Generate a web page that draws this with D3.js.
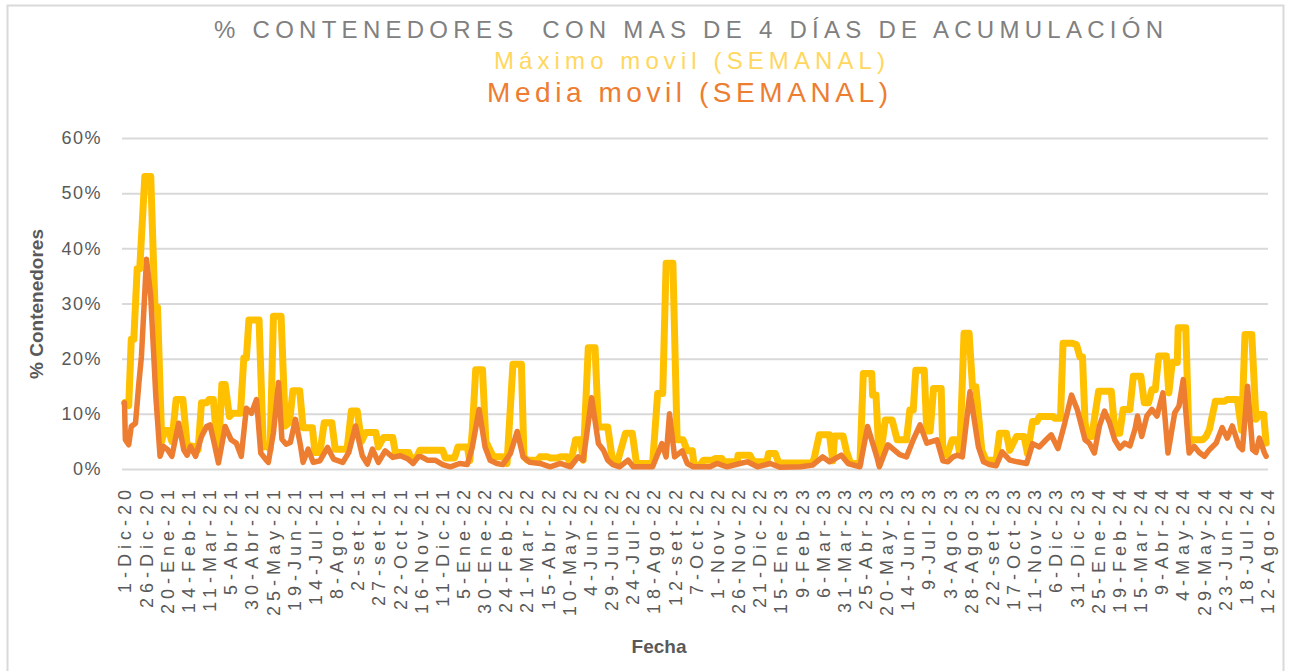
<!DOCTYPE html>
<html>
<head>
<meta charset="utf-8">
<script src="https://cdn.jsdelivr.net/npm/d3@7"></script>
<style>
  html, body { margin: 0; padding: 0; background: #ffffff; }
  svg { display: block; }
</style>
</head>
<body>
<svg id="chart" width="1296" height="671"></svg>
<script>
// ---------------- DATA ----------------
const startDate = "2020-12-01"; // day 0 of the series
const titleText = "% CONTENEDORES  CON MAS DE 4 DÍAS DE ACUMULACIÓN";
const subtitleMax = "Máximo movil (SEMANAL)";
const subtitleMean = "Media movil (SEMANAL)";
const yAxisTitle = "% Contenedores";
const xAxisTitle = "Fecha";

// tick labels: one every 25 days from 1-Dic-20
const tickLabels = ["1-Dic-20","26-Dic-20","20-Ene-21","14-Feb-21","11-Mar-21","5-Abr-21","30-Abr-21","25-May-21","19-Jun-21","14-Jul-21","8-Ago-21","2-set-21","27-set-21","22-Oct-21","16-Nov-21","11-Dic-21","5-Ene-22","30-Ene-22","24-Feb-22","21-Mar-22","15-Abr-22","10-May-22","4-Jun-22","29-Jun-22","24-Jul-22","18-Ago-22","12-set-22","7-Oct-22","1-Nov-22","26-Nov-22","21-Dic-22","15-Ene-23","9-Feb-23","6-Mar-23","31-Mar-23","25-Abr-23","20-May-23","14-Jun-23","9-Jul-23","3-Ago-23","28-Ago-23","22-set-23","17-Oct-23","11-Nov-23","6-Dic-23","31-Dic-23","25-Ene-24","19-Feb-24","15-Mar-24","9-Abr-24","4-May-24","29-May-24","23-Jun-24","18-Jul-24","12-Ago-24"];
const tickStepDays = 25;
const yTicks = [0, 10, 20, 30, 40, 50, 60];

// Máximo móvil (semanal): day offset from startDate, value in %
const maxDays = [0,5,8,11,15,18,24,31,36,39,44,47,52,56,61,69,74,82,87,91,97,100,105,109,111,115,119,124,128,137,141,144,147,159,164,169,172,176,185,190,195,199,207,211,222,225,231,236,245,249,263,268,275,280,285,297,300,306,317,320,336,338,345,349,376,379,390,394,405,408,411,415,423,427,432,436,447,452,459,469,472,476,488,491,500,503,511,515,523,527,533,539,542,548,556,560,565,571,576,582,592,600,605,624,630,636,640,648,653,660,665,671,673,680,684,695,698,706,708,724,725,739,743,759,761,769,773,813,815,821,833,837,839,849,853,858,869,873,883,884,888,892,899,907,913,924,928,932,935,945,948,952,956,965,967,972,978,984,987,992,998,1002,1006,1013,1018,1030,1034,1042,1046,1054,1063,1067,1073,1078,1081,1097,1099,1106,1109,1120,1125,1129,1132,1135,1138,1143,1146,1151,1166,1169,1172,1176,1180,1188,1192,1201,1205,1210,1214,1218,1222,1231,1234,1238,1244,1245,1254,1258,1262,1274,1278,1282,1289,1300,1303,1315,1320,1324,1332,1337,1341,1346,1349];
const maxValues = [12,11.5,23.5,23.5,36.3,36.3,53,53,29.3,29.3,5,7,7,5,12.6,12.6,4.3,4.1,3.5,12,12,12.6,12.6,5,2.5,15.3,15.3,9.5,10.1,10.1,20.1,20.1,27,27,4,4.2,3.5,27.7,27.7,7.8,8.5,14.2,14.2,7.5,7.5,3,3,8.4,8.4,3.6,3.6,10.5,10.5,5,6.6,6.6,4,5.7,5.7,3,3,2,2,3.4,3.4,2,2,4,4,1.5,7,18,18,5,3.4,2.2,2.2,1,19,19,2.2,1.6,1.6,2.2,2.2,2,2,2.2,2.2,1,5.3,5.3,1.6,22,22,7.6,7.6,7.6,2.2,1,6.5,6.5,1,1,13.7,13.7,37.3,37.3,5.3,5.3,3.3,3.3,0.7,0.7,1.6,1.6,1.9,1.9,1.3,1.3,2.5,2.5,1.3,1.3,2.8,2.8,1.1,1.1,2,6.2,6.2,1.5,6,6,3.3,1,1,17.3,17.3,13.4,13.4,1,8.9,8.9,5.3,5.3,10.7,10.7,17.9,17.9,6.9,6.9,14.6,14.6,2.8,2.5,5.3,5.3,2.8,24.6,24.6,14.9,14.9,3.4,1.6,1.6,6.5,6.5,3.4,5.9,5.9,2.8,8.6,8.6,9.5,9.5,9.2,9.2,22.8,22.8,22.5,20.3,20.3,8.4,5.9,5.9,9,14.1,14.1,9,6.5,6.5,10.8,10.8,16.8,16.8,12,12,14.4,14.4,20.5,20.5,13.8,19.3,19.3,25.6,25.6,4.7,5.3,5.3,5.9,7.2,12.3,12.3,12.6,12.6,7,24.4,24.4,9,9.9,9.9,4.7];

// Media móvil (semanal): day offset from startDate, value in %
const meanDays = [0,1,5,8,13,17,20,26,31,37,42,46,51,56,64,70,74,78,84,91,97,101,106,111,119,126,132,138,144,150,156,161,167,170,176,182,186,191,196,202,208,211,217,223,231,240,247,258,265,273,281,287,293,300,308,317,326,335,341,347,351,358,367,376,385,396,405,411,419,426,432,440,447,456,464,471,479,491,503,515,527,536,542,552,560,566,571,577,585,595,601,612,624,635,640,644,650,659,665,672,692,700,712,727,736,748,763,775,799,813,825,833,847,855,869,878,889,892,902,916,924,932,940,948,960,967,973,979,984,990,999,1009,1015,1022,1030,1037,1046,1055,1066,1073,1081,1089,1095,1103,1111,1119,1126,1135,1140,1146,1152,1158,1164,1170,1176,1182,1188,1194,1197,1202,1208,1214,1220,1227,1233,1241,1246,1251,1258,1264,1270,1276,1282,1290,1297,1303,1309,1317,1321,1327,1333,1337,1341,1347,1349];
const meanValues = [12,5.3,4.4,7.7,8.3,15.6,20.4,38,31.3,13.2,2.3,4.1,3.5,2.3,8.3,3.5,2.5,4.1,2.3,5.9,7.7,8,4.7,1.1,7.7,5.3,4.7,2.3,11,10.1,12.6,2.9,1.7,1.2,6.6,15.7,5.4,4.5,4.8,9,4.2,1.2,3.6,1.2,1.5,3.9,1.8,1.2,3,7.8,2.4,0.9,3.6,1.2,3.3,2.1,2.4,1.8,1,2.2,2.2,1.6,1.6,0.8,0.4,1,0.8,4,10.8,4,1.6,1,0.8,2.8,6.8,2.2,1.2,1,0.4,1,0.4,2.2,1.6,12.9,4.6,3.4,1.6,0.8,0.4,1.6,0.4,0.4,0.4,4.6,2.2,10,2.2,3.3,1,0.4,0.4,1,0.4,1,1.3,0.4,1,0.3,0.4,0.7,2.2,1.3,2.5,1,0.4,7.7,2.2,0.4,4.4,2.6,2.2,5.3,8,4.7,5.3,1.5,1.3,2.2,2.5,2.2,14,4,1.3,0.8,0.6,3.1,1.6,1.3,1,4.6,4,5.3,6.2,3.7,8.3,13.4,10.7,5.3,4.7,2.9,7.8,10.5,8.4,5.3,3.8,4.7,4.2,7.2,9.6,5.9,9.6,10.8,9.6,13.8,2.9,10.2,11.4,16.2,2.9,4.1,3,2.3,3.5,4.7,7.5,5.6,7.8,4.1,3.5,15,3.5,3,5.6,2.9,2.3];

// ---------------- CHART ----------------
const svg = d3.select("#chart");
const start = d3.utcParse("%Y-%m-%d")(startDate);
const dayToDate = d => d3.utcDay.offset(start, d);

const x = d3.scaleUtc()
  .domain([start, dayToDate(tickStepDays * (tickLabels.length - 1))])
  .range([124.5, 1267]);
const y = d3.scaleLinear().domain([0, 60]).range([469, 138]);

// chart border
svg.append("rect")
  .attr("x", 7.5).attr("y", 5.5)
  .attr("width", 1276).attr("height", 700)
  .attr("fill", "#ffffff")
  .attr("stroke", "#d9d9d9").attr("stroke-width", 2);

// gridlines + y labels
const yAxis = d3.axisLeft(y).tickValues(yTicks).tickSize(-(1268 - 122)).tickFormat(d => d + "%");
const gy = svg.append("g").attr("transform", "translate(122,0)").call(yAxis);
gy.select(".domain").remove();
gy.selectAll(".tick line").attr("stroke", "#d9d9d9").attr("stroke-width", 2);
gy.selectAll(".tick text")
  .attr("fill", "#595959")
  .attr("font-family", "'Liberation Sans', Arial, sans-serif")
  .attr("font-size", 18)
  .attr("letter-spacing", 1.5)
  .attr("x", -20);

// x axis labels
const tickDates = tickLabels.map((t, i) => dayToDate(i * tickStepDays));
const xAxis = d3.axisBottom(x).tickValues(tickDates).tickSize(0)
  .tickFormat((d, i) => tickLabels[i]);
const gx = svg.append("g").attr("transform", "translate(0,469)").call(xAxis);
gx.select(".domain").remove();
gx.selectAll(".tick text")
  .attr("fill", "#595959")
  .attr("font-family", "'Liberation Sans', Arial, sans-serif")
  .attr("font-size", 18)
  .attr("letter-spacing", 5)
  .attr("text-anchor", "end")
  .attr("transform", "translate(0,16) rotate(-90)")
  .attr("x", 0).attr("y", 0).attr("dy", "0.36em");

// lines
const maxData = maxDays.map((d, i) => ({ date: dayToDate(d), v: maxValues[i] }));
const meanData = meanDays.map((d, i) => ({ date: dayToDate(d), v: meanValues[i] }));
const line = d3.line().x(d => x(d.date)).y(d => y(d.v));

svg.append("path").datum(maxData)
  .attr("d", line)
  .attr("fill", "none")
  .attr("stroke", "#FFC000")
  .attr("stroke-width", 7)
  .attr("stroke-linejoin", "round")
  .attr("stroke-linecap", "round");

svg.append("path").datum(meanData)
  .attr("d", line)
  .attr("fill", "none")
  .attr("stroke", "#ED7D31")
  .attr("stroke-width", 5.5)
  .attr("stroke-linejoin", "round")
  .attr("stroke-linecap", "round");

// titles
svg.append("text").text(titleText)
  .attr("x", 214).attr("y", 38)
  .attr("textLength", 949).attr("lengthAdjust", "spacing")
  .attr("fill", "#808080")
  .attr("font-family", "'Liberation Sans', Arial, sans-serif")
  .attr("font-size", 24)
  .style("white-space", "pre");

svg.append("text").text(subtitleMax)
  .attr("x", 494).attr("y", 69)
  .attr("textLength", 391).attr("lengthAdjust", "spacing")
  .attr("fill", "#FFD75E")
  .attr("font-family", "'Liberation Sans', Arial, sans-serif")
  .attr("font-size", 24);

svg.append("text").text(subtitleMean)
  .attr("x", 487).attr("y", 102)
  .attr("textLength", 401).attr("lengthAdjust", "spacing")
  .attr("fill", "#ED7D31")
  .attr("font-family", "'Liberation Sans', Arial, sans-serif")
  .attr("font-size", 28);

// axis titles
svg.append("text").text(yAxisTitle)
  .attr("transform", "translate(43,304) rotate(-90)")
  .attr("text-anchor", "middle")
  .attr("fill", "#595959")
  .attr("font-family", "'Liberation Sans', Arial, sans-serif")
  .attr("font-weight", "bold")
  .attr("font-size", 19);

svg.append("text").text(xAxisTitle)
  .attr("x", 659).attr("y", 653)
  .attr("text-anchor", "middle")
  .attr("fill", "#595959")
  .attr("font-family", "'Liberation Sans', Arial, sans-serif")
  .attr("font-weight", "bold")
  .attr("font-size", 19);
</script>
</body>
</html>
